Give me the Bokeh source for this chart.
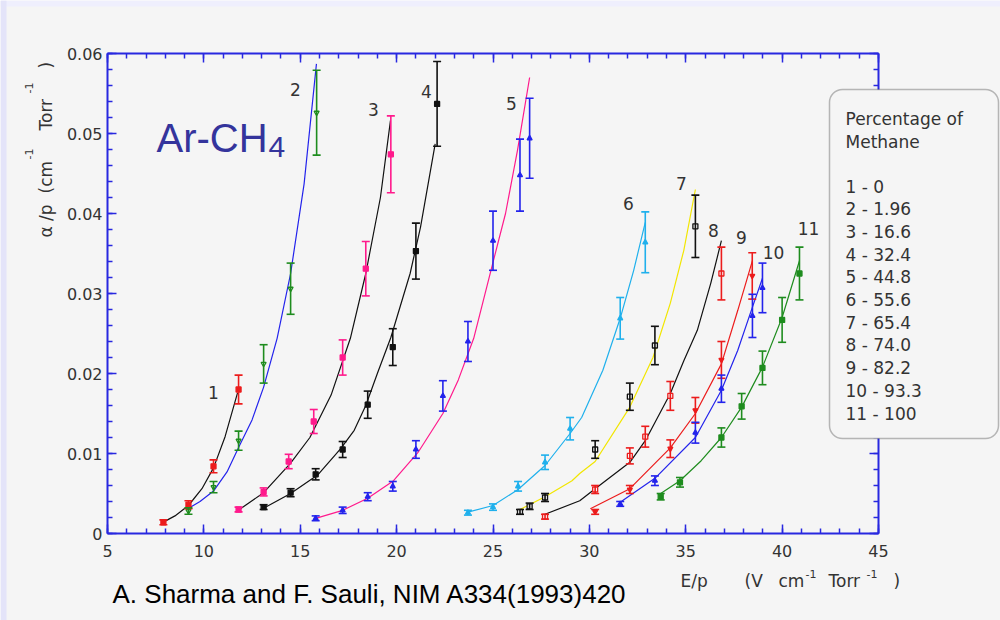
import math

from bokeh.embed import file_html
from bokeh.models import (BoxAnnotation, ColumnDataSource, CustomJSTickFormatter,
                          FixedTicker, Label, LinearAxis, Range1d, TeeHead, Whisker)
from bokeh.plotting import figure
from bokeh.resources import INLINE
from bokeh.core.properties import value

# ---------------------------------------------------------------------------
# Townsend coefficient alpha/p versus reduced field E/p for Ar-CH4 mixtures
# (A. Sharma and F. Sauli, NIM A334 (1993) 420)
# ---------------------------------------------------------------------------

curve_ids = ["1", "2", "3", "4", "5", "6", "7", "8", "9", "10", "11"]
methane_pct = ["0", "1.96", "16.6", "32.4", "44.8", "55.6", "65.4", "74.0",
               "82.2", "93.3", "100"]

# measured points, E/p in V cm^-1 Torr^-1
E_P = [
    [7.9, 9.2, 10.5, 11.8],
    [9.2, 10.5, 11.8, 13.1, 14.5, 15.85],
    [11.8, 13.1, 14.4, 15.7, 17.2, 18.4, 19.7],
    [13.1, 14.5, 15.8, 17.2, 18.5, 19.8, 21.0, 22.1],
    [15.8, 17.2, 18.5, 19.8, 21.0, 22.4, 23.7, 25.0, 26.4, 26.9],
    [23.7, 25.0, 26.3, 27.7, 29.0, 31.6, 32.9],
    [26.4, 26.9, 27.7, 30.3, 32.1, 33.4, 35.5],
    [27.7, 30.3, 32.1, 32.9, 34.2, 36.85],
    [30.3, 32.1, 34.2, 35.5, 36.85, 38.45],
    [31.6, 33.4, 35.5, 36.85, 38.46, 38.98],
    [33.7, 34.7, 36.85, 37.9, 38.98, 40.0, 40.9],
]
# alpha/p in cm^-1 Torr^-1
ALPHA_P = [
    [0.0014, 0.0036, 0.0084, 0.0180],
    [0.0028, 0.0058, 0.0116, 0.0212, 0.0306, 0.0526],
    [0.0030, 0.0052, 0.0090, 0.0140, 0.0220, 0.0331, 0.0474],
    [0.0033, 0.0051, 0.0074, 0.0105, 0.0161, 0.0233, 0.0353, 0.0537],
    [0.0019, 0.0029, 0.0046, 0.0059, 0.0105, 0.0172, 0.0240, 0.0366, 0.0448, 0.0494],
    [0.0026, 0.0033, 0.0059, 0.0089, 0.0131, 0.0269, 0.0364],
    [0.0027, 0.0034, 0.0045, 0.0105, 0.0171, 0.0235, 0.0384],
    [0.0021, 0.0055, 0.0097, 0.0121, 0.0172, 0.0325],
    [0.0027, 0.0055, 0.0106, 0.0154, 0.0217, 0.0322],
    [0.0037, 0.0066, 0.0126, 0.0181, 0.0272, 0.0307],
    [0.0046, 0.0064, 0.0120, 0.0159, 0.0207, 0.0267, 0.0325],
]
ALPHA_ERR = [
    [0.0003, 0.0005, 0.0008, 0.0018],
    [0.0004, 0.0007, 0.0012, 0.0024, 0.0032, 0.0053],
    [0.0003, 0.0005, 0.0009, 0.0015, 0.0022, 0.0034, 0.0048],
    [0.0003, 0.0005, 0.0007, 0.0010, 0.0017, 0.0023, 0.0035, 0.0053],
    [0.0003, 0.0004, 0.0005, 0.0006, 0.0011, 0.0019, 0.0025, 0.0037, 0.0045, 0.0050],
    [0.0003, 0.0004, 0.0006, 0.0009, 0.0014, 0.0026, 0.0038],
    [0.0003, 0.0004, 0.0005, 0.0011, 0.0017, 0.0024, 0.0039],
    [0.0003, 0.0005, 0.0010, 0.0013, 0.0018, 0.0033],
    [0.0003, 0.0005, 0.0011, 0.0016, 0.0023, 0.0029],
    [0.0003, 0.0006, 0.0013, 0.0017, 0.0027, 0.0031],
    [0.0004, 0.0006, 0.0012, 0.0016, 0.0021, 0.0028, 0.0033],
]

# fitted curves
FIT_E_P = [
    [7.8, 8.5, 9.2, 9.9, 10.5, 11.1, 11.75],
    [9.1, 9.8, 10.5, 11.2, 11.85, 12.5, 13.1, 13.8, 14.5, 15.2, 15.84],
    [11.9, 13.1, 14.5, 15.5, 16.6, 17.6, 18.4, 19.16, 19.68],
    [13.05, 14.5, 15.9, 17.1, 17.8, 18.4, 19.0, 19.7, 20.7, 21.24, 22.0],
    [15.8, 17.2, 18.5, 19.84, 21.1, 22.4, 23.2, 24.0, 25.0, 25.65, 26.27, 26.9],
    [23.6, 25.0, 26.3, 27.7, 29.0, 29.6, 30.7, 31.6, 32.3, 32.9],
    [26.4, 27.7, 29.1, 29.5, 30.3, 32.1, 33.3, 34.2, 34.9, 35.5],
    [27.7, 29.5, 30.3, 32.1, 32.9, 34.2, 34.9, 35.6, 36.3, 36.85],
    [30.05, 32.1, 34.2, 35.5, 36.85, 37.7, 38.46],
    [31.6, 33.4, 35.5, 36.85, 37.7, 38.46, 38.98],
    [33.7, 34.7, 35.8, 36.85, 37.9, 38.98, 40.0, 40.9],
]
FIT_ALPHA_P = [
    [0.0013, 0.0022, 0.0035, 0.0056, 0.0082, 0.0121, 0.0176],
    [0.0030, 0.0040, 0.0053, 0.0077, 0.0110, 0.0142, 0.0183, 0.0244, 0.0325, 0.0437, 0.0587],
    [0.0031, 0.0051, 0.0088, 0.0120, 0.0173, 0.0244, 0.0325, 0.0420, 0.0516],
    [0.0031, 0.0050, 0.0073, 0.0106, 0.0129, 0.0160, 0.0200, 0.0245, 0.0325, 0.0383, 0.0487],
    [0.0019, 0.0029, 0.0044, 0.0066, 0.0101, 0.0150, 0.0192, 0.0244, 0.0339, 0.0400, 0.0479, 0.0570],
    [0.0026, 0.0035, 0.0055, 0.0085, 0.0125, 0.0145, 0.0204, 0.0269, 0.0329, 0.0389],
    [0.0030, 0.0046, 0.0066, 0.0075, 0.0090, 0.0158, 0.0220, 0.0288, 0.0354, 0.0430],
    [0.0024, 0.0041, 0.0056, 0.0089, 0.0116, 0.0175, 0.0216, 0.0254, 0.0313, 0.0366],
    [0.0031, 0.0056, 0.0107, 0.0150, 0.0212, 0.0279, 0.0341],
    [0.0039, 0.0069, 0.0120, 0.0179, 0.0229, 0.0283, 0.0319],
    [0.0050, 0.0066, 0.0091, 0.0120, 0.0158, 0.0208, 0.0270, 0.0341],
]

x_ticks = [5, 10, 15, 20, 25, 30, 35, 40, 45]
y_ticks = [0.0, 0.01, 0.02, 0.03, 0.04, 0.05, 0.06]

# ---------------------------------------------------------------------------
# styling
# ---------------------------------------------------------------------------
RED, GREEN, BLUE = "#ec1c1c", "#1e8c1e", "#2323ec"
PINK, CYAN, YELLOW, BLACK = "#ff1a8c", "#1fb0ec", "#f2e600", "#111111"
FRAME_BLUE = "#2828e0"
BG = "#f5f5f5"
TXT = "#333333"
GENEVA = "DejaVu Sans"
ARIAL = "Liberation Sans"

point_color = [RED, GREEN, PINK, BLACK, BLUE, CYAN, BLACK, RED, RED, BLUE, GREEN]
curve_color = [BLACK, BLUE, BLACK, BLACK, PINK, CYAN, YELLOW, BLACK, RED, BLUE, GREEN]
marker_kind = ["square", "inverted_triangle", "square", "square", "triangle", "triangle",
               "square", "square", "inverted_triangle", "triangle", "square"]
marker_open = [False, True, False, False, False, False, True, True, False, False, False]

# the plotting box sits inside a full-page canvas; page pixels <-> data units
W, H = 1000, 620
BOX_L, BOX_R, BOX_T, BOX_B = 107, 878, 53, 533
X_LO, X_HI, Y_LO, Y_HI = 5.0, 45.0, 0.0, 0.06


def px_x(px):
    return X_LO + (px - BOX_L) * (X_HI - X_LO) / (BOX_R - BOX_L)


def px_y(py):
    return Y_LO + (BOX_B - py) * (Y_HI - Y_LO) / (BOX_B - BOX_T)


p = figure(width=W, height=H,
           x_range=Range1d(px_x(0), px_x(W)), y_range=Range1d(px_y(H), px_y(0)),
           output_backend="svg", toolbar_location=None,
           min_border=0, min_border_left=0, min_border_right=0,
           min_border_top=0, min_border_bottom=0,
           background_fill_color=BG, border_fill_color=BG,
           outline_line_color=None)
p.grid.visible = False

x_minor = [v for v in range(5, 46)]
y_minor = [round(i * 0.002, 3) for i in range(0, 31)]
xtick = FixedTicker(ticks=x_ticks, minor_ticks=x_minor)
ytick = FixedTicker(ticks=y_ticks, minor_ticks=y_minor)
yfmt = CustomJSTickFormatter(code="return tick == 0 ? '0' : tick.toFixed(2);")


def style_axis(ax, show_labels):
    ax.axis_line_color = FRAME_BLUE
    ax.axis_line_width = 2
    ax.major_tick_line_color = FRAME_BLUE
    ax.minor_tick_line_color = FRAME_BLUE
    ax.major_tick_line_width = 1.5
    ax.minor_tick_line_width = 1.5
    ax.major_tick_in = 9
    ax.major_tick_out = 0
    ax.minor_tick_in = 5
    ax.minor_tick_out = 0
    ax.major_label_text_font = GENEVA
    ax.major_label_text_font_size = "16px" if show_labels else "0px"
    ax.major_label_text_color = TXT if show_labels else None


bottom_ax = p.xaxis[0]
left_ax = p.yaxis[0]
bottom_ax.ticker = xtick
left_ax.ticker = ytick
left_ax.formatter = yfmt
style_axis(bottom_ax, True)
style_axis(left_ax, True)
bottom_ax.major_label_standoff = 11
left_ax.major_label_standoff = 5
bottom_ax.fixed_location = Y_LO
bottom_ax.bounds = (X_LO, X_HI)
left_ax.fixed_location = X_LO
left_ax.bounds = (Y_LO, Y_HI)

top_ax = LinearAxis(ticker=xtick, fixed_location=Y_HI, bounds=(X_LO, X_HI))
right_ax = LinearAxis(ticker=ytick, fixed_location=X_HI, bounds=(Y_LO, Y_HI))
style_axis(top_ax, False)
style_axis(right_ax, False)
p.add_layout(top_ax, "above")
p.add_layout(right_ax, "right")

# page strips along the left and top edges
p.add_layout(BoxAnnotation(left=px_x(0), right=px_x(W), top=px_y(0), bottom=px_y(6),
                           fill_color="#efeffd", fill_alpha=1, line_color=None))
p.add_layout(BoxAnnotation(left=px_x(0), right=px_x(6), top=px_y(0), bottom=px_y(H),
                           fill_color="#e4e4f9", fill_alpha=1, line_color=None))

# fitted curves, error bars and points
for i in range(len(curve_ids)):
    p.line(FIT_E_P[i], FIT_ALPHA_P[i], line_color=curve_color[i], line_width=1.2)

for i in range(len(curve_ids)):
    c = point_color[i]
    src = ColumnDataSource(dict(
        x=E_P[i], y=ALPHA_P[i],
        lo=[a - e for a, e in zip(ALPHA_P[i], ALPHA_ERR[i])],
        hi=[a + e for a, e in zip(ALPHA_P[i], ALPHA_ERR[i])],
    ))
    p.add_layout(Whisker(source=src, base="x", lower="lo", upper="hi",
                         line_color=c, line_width=1.6, level="glyph",
                         lower_head=TeeHead(size=8, line_color=c, line_width=1.6),
                         upper_head=TeeHead(size=8, line_color=c, line_width=1.6)))
    p.scatter("x", "y", source=src, marker=marker_kind[i], size=5,
              line_color=c, line_width=1.3,
              fill_color=BG if marker_open[i] else c)

# curve numbers
num_px = [(213, 392), (295, 89), (373, 109), (426, 91), (511, 103), (628, 203),
          (681, 183), (713, 230), (741, 237), (773, 252), (808, 228)]
p.text(x=[px_x(a) for a, b in num_px], y=[px_y(b) for a, b in num_px], text=curve_ids,
       text_font=value(GENEVA), text_font_size="17px", text_color=TXT,
       text_align="center", text_baseline="middle")

# gas mixture name
p.add_layout(Label(x=px_x(156), y=px_y(137), text="Ar-CH", text_font=ARIAL,
                   text_font_size="40px", text_color="#34349c",
                   text_align="left", text_baseline="alphabetic"))
p.add_layout(Label(x=px_x(268), y=px_y(146), text="4", text_font=ARIAL,
                   text_font_size="30px", text_color="#34349c",
                   text_align="left", text_baseline="alphabetic"))

# legend box with the methane fractions
p.add_layout(BoxAnnotation(left=px_x(829), right=px_x(998), top=px_y(89), bottom=px_y(438),
                           fill_color=BG, fill_alpha=1, line_color="#222222",
                           line_width=1.5, border_radius=13))
legend_lines = [("Percentage of", 118), ("Methane", 141)]
for k, (cid, pct) in enumerate(zip(curve_ids, methane_pct)):
    legend_lines.append((f"{cid} - {pct}", 186 + k * 22.7))
for txt, base in legend_lines:
    p.add_layout(Label(x=px_x(845), y=px_y(base), text=txt, text_font=GENEVA,
                       text_font_size="17px", text_color=TXT,
                       text_align="left", text_baseline="alphabetic"))


# axis titles
def title_piece(txt, xp, yp, size="17px", angle=0.0):
    p.add_layout(Label(x=px_x(xp), y=px_y(yp), text=txt, text_font=GENEVA,
                       text_font_size=size, text_color=TXT, angle=angle,
                       text_align="left", text_baseline="alphabetic"))


title_piece("E/p", 680, 580)
title_piece("(V", 744, 580)
title_piece("cm", 778, 580)
title_piece("-1", 805, 573, size="11px")
title_piece("Torr", 828, 580)
title_piece("-1", 866, 573, size="11px")
title_piece(")", 893, 580)

up = math.pi / 2
title_piece("\u03b1 /p", 45, 237, angle=up)
title_piece("(cm", 45, 193, angle=up)
title_piece("-1", 28, 159, size="11px", angle=up)
title_piece("Torr", 45, 130, angle=up)
title_piece("-1", 28, 93, size="11px", angle=up)
title_piece(")", 45, 68, angle=up)

# reference
p.add_layout(Label(x=px_x(112), y=px_y(593), text="A. Sharma and F. Sauli, NIM A334(1993)420",
                   text_font=ARIAL, text_font_size="26px", text_color="#000000",
                   text_align="left", text_baseline="alphabetic"))

open("out.html", "w").write(file_html(p, INLINE))
